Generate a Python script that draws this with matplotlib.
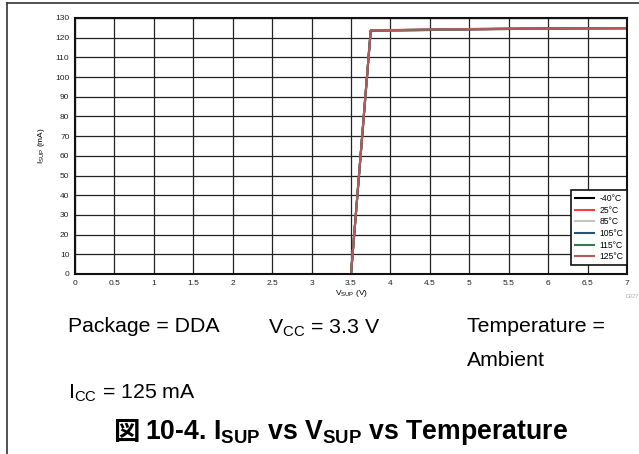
import matplotlib.pyplot as plt
from matplotlib.lines import Line2D

# data
v_sup = [3.5, 3.75, 4.0, 4.5, 5.0, 5.5, 6.0, 6.5, 7.0]
temps = ['-40°C', '25°C', '85°C', '105°C', '115°C', '125°C']
colors = ['#000000', '#ff3b3b', '#c4c4c4', '#1f5580', '#2f7a50', '#b55a5a']
i_sup = {
    '-40°C': [0, 123.4, 123.6, 123.9, 124.2, 124.4, 124.6, 124.7, 124.8],
    '25°C': [0, 123.5, 123.7, 124.0, 124.3, 124.5, 124.6, 124.7, 124.8],
    '85°C': [0, 123.5, 123.7, 124.0, 124.3, 124.5, 124.6, 124.7, 124.9],
    '105°C': [0, 123.6, 123.8, 124.1, 124.3, 124.5, 124.7, 124.8, 124.9],
    '115°C': [0, 123.6, 123.8, 124.1, 124.4, 124.6, 124.7, 124.8, 124.9],
    '125°C': [0, 123.7, 123.9, 124.2, 124.4, 124.6, 124.7, 124.8, 124.9],
}
x_ticks = [0, 0.5, 1, 1.5, 2, 2.5, 3, 3.5, 4, 4.5, 5, 5.5, 6, 6.5, 7]
x_labels = ['0', '0.5', '1', '1.5', '2', '2.5', '3', '3.5', '4', '4.5', '5', '5.5', '6', '6.5', '7']
y_ticks = list(range(0, 131, 10))

plt.rcParams['font.family'] = ['Liberation Sans', 'Noto Sans CJK JP', 'DejaVu Sans']

fig = plt.figure(figsize=(6.39, 4.54), dpi=100)
W, H = 639, 454

ax = fig.add_axes([75 / W, 1 - 274 / H, (627 - 75) / W, (274 - 18) / H])

for t, c in zip(temps, colors):
    ax.plot(v_sup, i_sup[t], color=c, lw=1.5, label=t)

ax.set_xlim(0, 7)
ax.set_ylim(0, 130)
ax.set_xticks(x_ticks)
ax.set_xticklabels(x_labels)
ax.set_yticks(y_ticks)
ax.tick_params(labelsize=6, length=0, pad=4, colors='#222222')
ax.grid(True, color='#222222', lw=0.9)
ax.set_axisbelow(True)
for s in ax.spines.values():
    s.set_linewidth(1.5)
    s.set_color('#111111')

ax.set_xlabel('V$_{\\mathregular{SUP}}$ (V)', fontsize=6, labelpad=1)
ax.set_ylabel('I$_{\\mathregular{SUP}}$ (mA)', fontsize=6, labelpad=6)

handles = [Line2D([0], [0], color=c, lw=1.5) for c in colors]
leg = ax.legend(handles, temps, loc='lower right', bbox_to_anchor=(1, 9 / 256),
                fontsize=6.2, frameon=True,
                fancybox=False, edgecolor='#111111', framealpha=1,
                handlelength=2.2, handletextpad=0.6, labelspacing=0.3,
                borderpad=0.45, borderaxespad=0)
leg.get_frame().set_linewidth(1.2)

fig.text(626 / W, 1 - 297 / H, 'D027', fontsize=4, color='#aaaaaa', va='center', ha='left')

# page frame lines
fig.add_artist(Line2D([7 / W, 7 / W], [0, 1 - 3 / H], color='#333333', lw=1.2))
fig.add_artist(Line2D([7 / W, 1], [1 - 3 / H, 1 - 3 / H], color='#333333', lw=1.2))

fs = 15.3
fig.text(68 / W, 1 - 327 / H, 'Package = DDA', fontsize=fs, va='center')
fig.text(268 / W, 1 - 333 / H, 'V$_{\\mathregular{CC}}$ = 3.3 V', fontsize=fs, va='baseline')
fig.text(467 / W, 1 - 327 / H, 'Temperature =', fontsize=fs, va='center')
fig.text(467 / W, 1 - 360 / H, 'Ambient', fontsize=fs, va='center')
fig.text(68 / W, 1 - 398 / H, 'I$_{\\mathregular{CC}}$ = 125 mA', fontsize=fs, va='baseline')

# title: CJK glyph drawn apart from the mathtext part
fig.text(113 / W, 1 - 432 / H, '図', fontsize=19, fontweight='bold',
         family=['Noto Sans CJK JP'], ha='left', va='center')
fig.text(145 / W, 1 - 439 / H,
         '10-4. I$_{\\mathregular{SUP}}$ vs V$_{\\mathregular{SUP}}$ vs Temperature',
         fontsize=19.2, fontweight='bold', ha='left', va='baseline')

fig.savefig('out.png', dpi=100)
